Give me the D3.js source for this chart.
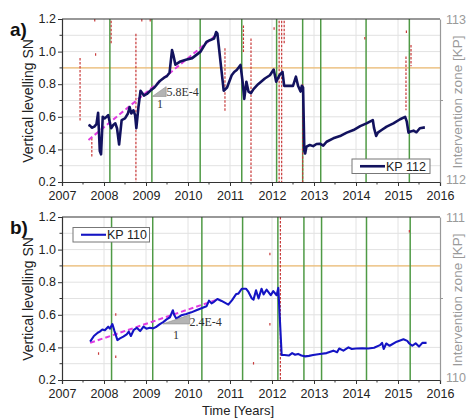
<!DOCTYPE html>
<html>
<head>
<meta charset="utf-8">
<script src="https://cdn.jsdelivr.net/npm/d3@7"></script>
<style>
  html, body { margin: 0; padding: 0; background: #fff; }
  svg { display: block; font-family: Arial, "Liberation Sans", sans-serif; }
</style>
</head>
<body>
<svg id="chart" width="468" height="419"></svg>
<script>
// ---- Data ----------------------------------------------------------------
// KP 112 vertical levelling (panel a)
const kp112Years = [2007.63, 2007.67, 2007.71, 2007.77, 2007.82, 2007.86, 2007.9, 2007.93, 2007.97, 2008.02,
  2008.1, 2008.17, 2008.22, 2008.27, 2008.31, 2008.36, 2008.42, 2008.5, 2008.57, 2008.61,
  2008.65, 2008.7, 2008.74, 2008.77, 2008.82, 2008.87, 2008.95, 2009.02, 2009.1, 2009.2,
  2009.33, 2009.43, 2009.5, 2009.56, 2009.62, 2009.65, 2009.7, 2009.82, 2009.95, 2010.1,
  2010.3, 2010.44, 2010.52, 2010.62, 2010.67, 2010.7, 2010.85, 2010.93, 2011.04, 2011.1,
  2011.16, 2011.25, 2011.3, 2011.34, 2011.39, 2011.44, 2011.5, 2011.56, 2011.67, 2011.83,
  2011.95, 2012.04, 2012.1, 2012.18, 2012.25, 2012.29, 2012.34, 2012.5, 2012.57, 2012.62,
  2012.68, 2012.71, 2012.74, 2012.77, 2012.79, 2012.82, 2012.9, 2012.98, 2013.06, 2013.14,
  2013.22, 2013.3, 2013.46, 2013.62, 2013.78, 2013.94, 2014.1, 2014.25, 2014.4, 2014.43,
  2014.48, 2014.52, 2014.61, 2014.73, 2014.89, 2015.05, 2015.17, 2015.21, 2015.25, 2015.3,
  2015.37, 2015.44, 2015.52, 2015.64];
const kp112Values = [0.55, 0.545, 0.533, 0.54, 0.555, 0.625, 0.39, 0.37, 0.6, 0.59,
  0.61, 0.53, 0.55, 0.56, 0.53, 0.43, 0.58, 0.59, 0.62, 0.66,
  0.62, 0.64, 0.61, 0.53, 0.66, 0.76, 0.73, 0.74, 0.76, 0.78,
  0.82, 0.84, 0.85, 0.87, 1.01, 0.98, 0.92, 0.94, 0.95, 0.96,
  1.0, 1.06, 1.07, 1.08, 1.12, 1.11, 0.76, 0.78, 0.855, 0.875,
  0.887, 0.918, 0.815, 0.71, 0.815, 0.755, 0.745, 0.77, 0.8, 0.835,
  0.855, 0.89, 0.815, 0.856, 0.875, 0.79, 0.79, 0.79, 0.846, 0.79,
  0.755, 0.79, 0.78, 0.39, 0.375, 0.417, 0.427, 0.42, 0.433, 0.435,
  0.423, 0.447, 0.468, 0.482, 0.503, 0.519, 0.543, 0.56, 0.58, 0.53,
  0.482, 0.503, 0.519, 0.54, 0.56, 0.585, 0.6, 0.57, 0.503, 0.51,
  0.515, 0.505, 0.53, 0.535];

// KP 110 vertical levelling (panel b)
const kp110Years = [2007.67, 2007.76, 2007.85, 2007.9, 2007.96, 2008.02, 2008.1, 2008.14, 2008.2, 2008.25,
  2008.32, 2008.38, 2008.46, 2008.54, 2008.59, 2008.64, 2008.71, 2008.78, 2008.86, 2008.94,
  2009.01, 2009.09, 2009.17, 2009.25, 2009.33, 2009.41, 2009.49, 2009.57, 2009.64, 2009.67,
  2009.72, 2009.84, 2009.96, 2010.08, 2010.2, 2010.32, 2010.44, 2010.5, 2010.56, 2010.62,
  2010.7, 2010.8, 2010.96, 2011.05, 2011.15, 2011.2, 2011.28, 2011.38, 2011.44, 2011.52,
  2011.56, 2011.62, 2011.68, 2011.75, 2011.8, 2011.87, 2011.97, 2012.03, 2012.11, 2012.15,
  2012.23, 2012.3, 2012.4, 2012.48, 2012.55, 2012.62, 2012.7, 2012.79, 2012.88, 2012.98,
  2013.14, 2013.3, 2013.46, 2013.55, 2013.6, 2013.7, 2013.82, 2013.9, 2014.0, 2014.15,
  2014.29, 2014.43, 2014.57, 2014.62, 2014.66, 2014.72, 2014.8, 2014.97, 2015.13, 2015.22,
  2015.27, 2015.34, 2015.42, 2015.5, 2015.58, 2015.68];
const kp110Values = [0.435, 0.47, 0.49, 0.497, 0.51, 0.505, 0.527, 0.515, 0.543, 0.5,
  0.445, 0.455, 0.466, 0.48, 0.497, 0.47, 0.508, 0.52, 0.5, 0.527,
  0.515, 0.52, 0.517, 0.527, 0.543, 0.555, 0.572, 0.585, 0.628, 0.6,
  0.577, 0.597, 0.605, 0.615, 0.628, 0.64, 0.652, 0.687, 0.67, 0.68,
  0.697, 0.685, 0.662, 0.69, 0.728, 0.73, 0.76, 0.76, 0.74, 0.7,
  0.693, 0.75, 0.7, 0.76, 0.725, 0.754, 0.72, 0.745, 0.72, 0.765,
  0.353, 0.353, 0.35, 0.365, 0.355, 0.36, 0.35, 0.345, 0.348, 0.353,
  0.36, 0.365, 0.38, 0.37, 0.393, 0.38, 0.4, 0.39, 0.393, 0.395,
  0.393, 0.398, 0.414, 0.428, 0.39, 0.424, 0.41, 0.435, 0.45, 0.44,
  0.424, 0.41, 0.425, 0.405, 0.428, 0.428];

// Linear trends (slope per day) fitted over the early period
const trendA = { label: "5.8E-4", slopePerDay: 5.8e-4, startYear: 2007.63, startValue: 0.458, endYear: 2010.7 };
const trendB = { label: "2.4E-4", slopePerDay: 2.4e-4, startYear: 2007.67, startValue: 0.428, endYear: 2010.68 };

// Survey dates (green verticals)
const surveysA = [2008.14, 2009.14, 2010.29, 2011.28, 2012.11, 2012.73, 2013.16, 2014.24, 2015.27];
const surveysB = [2008.18, 2009.16, 2010.33, 2011.3, 2012.14, 2012.76, 2013.18, 2014.25, 2015.29];

// Intervention zones: [year, KP from, KP to]
const interventionsA = [
  [2007.43, 112.76, 112.37], [2007.71, 112.27, 112.15], [2007.8, 112.79, 112.77],
  [2007.78, 113.0, 112.98], [2008.17, 112.99, 112.85], [2008.76, 112.91, 112.0],
  [2008.9, 113.0, 112.98], [2009.1, 113.0, 112.98], [2010.88, 112.82, 112.43],
  [2011.32, 112.96, 112.79], [2011.5, 112.88, 112.0], [2012.05, 112.95, 112.93],
  [2012.17, 112.99, 112.0], [2012.23, 112.99, 112.0], [2012.29, 112.99, 112.85],
  [2012.73, 112.6, 112.0], [2014.21, 112.89, 112.87], [2015.19, 112.77, 112.44],
  [2015.31, 112.84, 112.71], [2015.2, 112.93, 112.91]
];
const interventionsB = [
  [2012.2, 111.0, 110.0], [2007.87, 110.17, 110.15], [2008.28, 110.41, 110.39],
  [2008.28, 110.15, 110.13], [2011.95, 110.78, 110.76], [2011.95, 110.35, 110.33],
  [2011.56, 110.11, 110.09], [2015.27, 110.92, 110.9]
];

// Axis ticks
const yearTicks = [2007, 2008, 2009, 2010, 2011, 2012, 2013, 2014, 2015, 2016];
const levelTicks = [0.2, 0.4, 0.6, 0.8, 1.0, 1.2];
const alarmLevel = 0.9;

// ---- Layout --------------------------------------------------------------
const svg = d3.select("#chart");
const left = 62, right = 440;
const x = d3.scaleLinear().domain([2007, 2016]).range([left, right]);

const panels = [
  { tag: "a)", top: 19, bottom: 182, years: kp112Years, values: kp112Values, color: "#12125e", width: 2.6,
    trend: trendA, surveys: surveysA, interventions: interventionsA, kp: [112, 113], legend: "KP 112",
    legendBox: [352, 159, 78, 14.5], triangle: { x0: 2009.15, x1: 2009.48, y0: 0.725, y1: 0.785 },
    slopeLabel: [166.5, 95.5], oneLabel: [160, 108] },
  { tag: "b)", top: 217, bottom: 380, years: kp110Years, values: kp110Values, color: "#1414c4", width: 2.1,
    trend: trendB, surveys: surveysB, interventions: interventionsB, kp: [110, 111], legend: "KP 110",
    legendBox: [73, 227.5, 76.5, 14.5], triangle: { x0: 2009.4, x1: 2010.04, y0: 0.544, y1: 0.6 },
    slopeLabel: [189.5, 325.5], oneLabel: [176, 339] }
];

panels.forEach(p => {
  const y = d3.scaleLinear().domain([0.2, 1.2]).range([p.bottom, p.top]);
  const yKP = d3.scaleLinear().domain(p.kp).range([p.bottom, p.top]);
  const g = svg.append("g");

  // grid
  g.selectAll(".hgrid").data(d3.range(3, 12).map(i => i / 10)).join("line")
    .attr("x1", left).attr("x2", right)
    .attr("y1", d => y(d)).attr("y2", d => y(d))
    .attr("stroke", "#e2e2e2").attr("stroke-width", 1);
  g.selectAll(".vgrid").data(yearTicks.slice(1, -1)).join("line")
    .attr("x1", d => x(d)).attr("x2", d => x(d))
    .attr("y1", p.top).attr("y2", p.bottom)
    .attr("stroke", "#e2e2e2").attr("stroke-width", 1);

  // alarm level
  g.append("line").attr("x1", left).attr("x2", right)
    .attr("y1", y(alarmLevel)).attr("y2", y(alarmLevel))
    .attr("stroke", "#efbd73").attr("stroke-width", 1.2);

  // survey dates
  g.selectAll(".survey").data(p.surveys).join("line")
    .attr("x1", d => x(d)).attr("x2", d => x(d))
    .attr("y1", p.top).attr("y2", p.bottom)
    .attr("stroke", "#4f9a45").attr("stroke-width", 1.5);

  // intervention zones
  g.selectAll(".zone").data(p.interventions).join("line")
    .attr("x1", d => x(d[0])).attr("x2", d => x(d[0]))
    .attr("y1", d => yKP(d[1])).attr("y2", d => yKP(d[2]))
    .attr("stroke", "#c83a3a").attr("stroke-width", 1.2)
    .attr("stroke-dasharray", "2.5,1.5");

  // trend line
  const t = p.trend;
  const slopePerYear = t.slopePerDay * 365.25;
  const trendPts = [t.startYear, t.endYear].map(yr => [yr, t.startValue + slopePerYear * (yr - t.startYear)]);
  g.append("path")
    .attr("d", d3.line().x(d => x(d[0])).y(d => y(d[1]))(trendPts))
    .attr("fill", "none").attr("stroke", "#e03ce0").attr("stroke-width", 2)
    .attr("stroke-dasharray", "5,3");

  // series
  const pts = p.years.map((yr, i) => [yr, p.values[i]]);
  g.append("path")
    .attr("d", d3.line().x(d => x(d[0])).y(d => y(d[1]))(pts))
    .attr("fill", "none").attr("stroke", p.color).attr("stroke-width", p.width)
    .attr("stroke-linejoin", "round");

  // slope triangle
  const tr = p.triangle;
  g.append("path")
    .attr("d", `M${x(tr.x0)},${y(tr.y0)}L${x(tr.x1)},${y(tr.y0)}L${x(tr.x1)},${y(tr.y1)}Z`)
    .attr("fill", "#b4b4b4").attr("stroke", "#8a8a8a").attr("stroke-width", 0.6);
  g.append("text").attr("x", p.slopeLabel[0]).attr("y", p.slopeLabel[1])
    .attr("font-family", "'Liberation Serif', 'DejaVu Serif', serif").attr("font-size", 12)
    .attr("fill", "#333").text(t.label);
  g.append("text").attr("x", p.oneLabel[0]).attr("y", p.oneLabel[1])
    .attr("font-family", "'Liberation Serif', 'DejaVu Serif', serif").attr("font-size", 12)
    .attr("fill", "#333").attr("text-anchor", "middle").text("1");

  // frame
  g.append("line").attr("x1", left).attr("x2", right).attr("y1", p.top).attr("y2", p.top)
    .attr("stroke", "#333").attr("stroke-width", 1.2);

  // left axis
  const ya = g.append("g").attr("transform", `translate(${left},0)`)
    .call(d3.axisLeft(y).tickValues(levelTicks).tickFormat(d3.format(".1f")).tickSize(4).tickPadding(2));
  ya.select(".domain").attr("stroke", "#333").attr("stroke-width", 1.2);
  ya.selectAll(".tick line").attr("stroke", "#333");
  ya.selectAll("text").attr("font-size", 12.5).attr("fill", "#222").attr("dy", "0.3em");
  g.selectAll(".yminor").data([0.3, 0.5, 0.7, 0.9, 1.1]).join("line")
    .attr("x1", left - 2.5).attr("x2", left).attr("y1", d => y(d)).attr("y2", d => y(d))
    .attr("stroke", "#333");

  // bottom axis
  const xa = g.append("g").attr("transform", `translate(0,${p.bottom})`)
    .call(d3.axisBottom(x).tickValues(yearTicks).tickFormat(d3.format("d")).tickSize(4).tickPadding(5));
  xa.select(".domain").attr("stroke", "#333").attr("stroke-width", 1.2);
  xa.selectAll(".tick line").attr("stroke", "#333");
  xa.selectAll("text").attr("font-size", 12.5).attr("fill", "#222");
  g.selectAll(".xminor").data(d3.range(2007.5, 2016, 1)).join("line")
    .attr("x1", d => x(d)).attr("x2", d => x(d)).attr("y1", p.bottom).attr("y2", p.bottom + 2.5)
    .attr("stroke", "#333");

  // right axis (intervention zone)
  const ra = g.append("g").attr("transform", `translate(${right},0)`)
    .call(d3.axisRight(yKP).tickValues(p.kp).tickFormat(d3.format("d")).tickSize(0).tickPadding(6));
  ra.select(".domain").attr("stroke", "#999").attr("stroke-width", 1.2);
  ra.selectAll("text").attr("font-size", 12.5).attr("fill", "#9a9a9a");
  ra.selectAll(".tick text").filter(d => d === p.kp[0]).attr("dy", "0.1em");
  g.append("line").attr("x1", right).attr("x2", right + 3)
    .attr("y1", yKP((p.kp[0] + p.kp[1]) / 2)).attr("y2", yKP((p.kp[0] + p.kp[1]) / 2))
    .attr("stroke", "#999");

  // axis titles
  g.append("text").attr("transform", `translate(33,${p.top + 82}) rotate(-90)`)
    .attr("text-anchor", "middle").attr("font-size", 14).attr("fill", "#222")
    .text("Vertical levelling SN");
  g.append("text").attr("transform", `translate(462,${p.top + 83}) rotate(-90)`)
    .attr("text-anchor", "middle").attr("font-size", 13.5).attr("fill", "#9a9a9a")
    .text("Intervention zone [KP]");

  // panel tag
  g.append("text").attr("x", 10).attr("y", p.top + 17).attr("font-size", 19)
    .attr("font-weight", "bold").attr("fill", "#111").text(p.tag);

  // legend
  const lb = p.legendBox;
  g.append("rect").attr("x", lb[0]).attr("y", lb[1]).attr("width", lb[2]).attr("height", lb[3])
    .attr("fill", "#fff").attr("stroke", "#777").attr("stroke-width", 1);
  g.append("line").attr("x1", lb[0] + 8).attr("x2", lb[0] + 33)
    .attr("y1", lb[1] + lb[3] / 2).attr("y2", lb[1] + lb[3] / 2)
    .attr("stroke", p.color).attr("stroke-width", p.width);
  g.append("text").attr("x", lb[0] + 34).attr("y", lb[1] + lb[3] / 2).attr("dy", "0.36em")
    .attr("font-size", 12.5).attr("fill", "#222").text(p.legend);
});

svg.append("text").attr("x", 238).attr("y", 415).attr("text-anchor", "middle")
  .attr("font-size", 13).attr("fill", "#222").text("Time [Years]");
</script>
</body>
</html>
